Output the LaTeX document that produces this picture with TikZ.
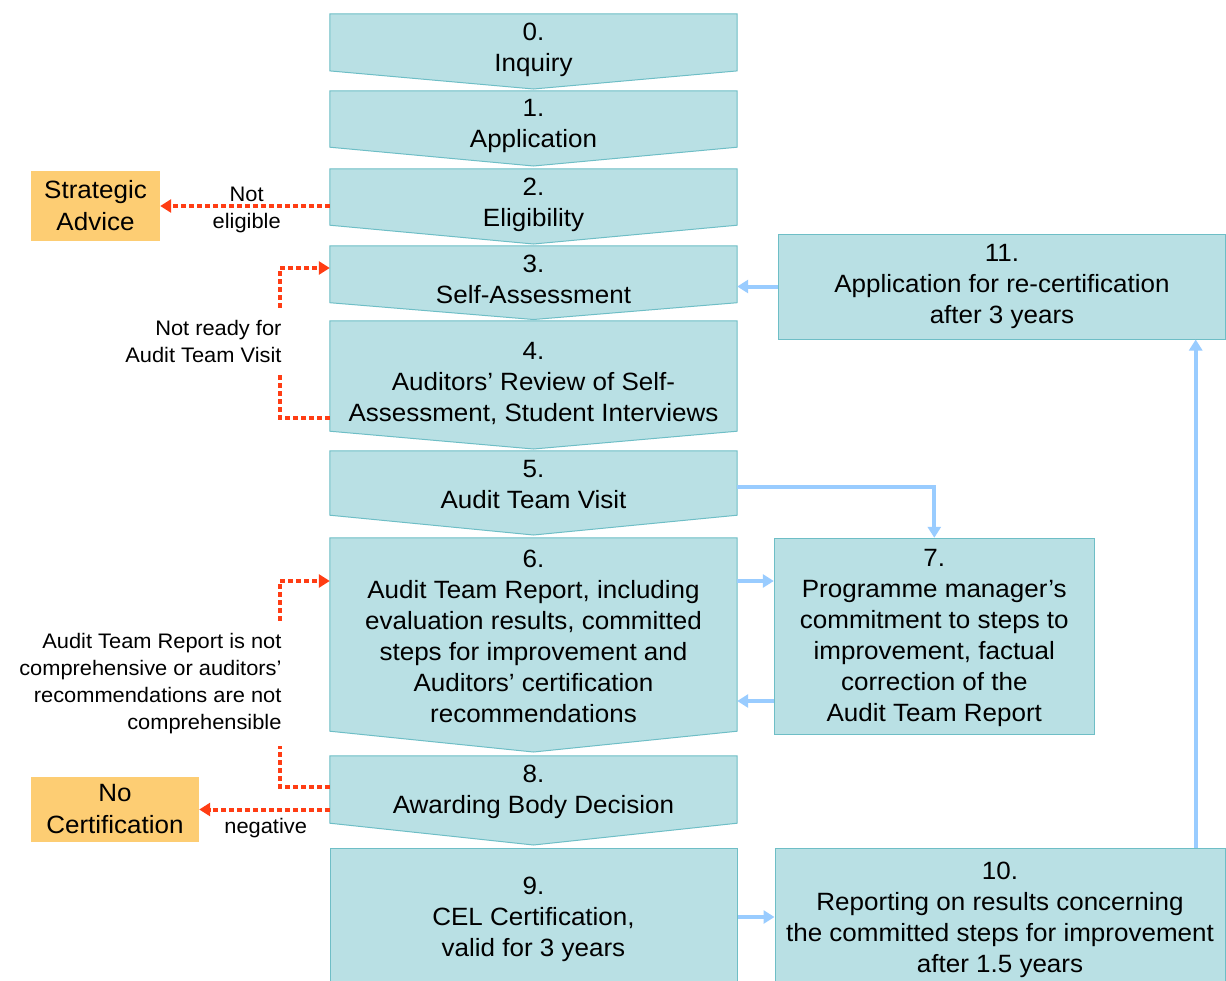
\documentclass[tikz,border=0pt]{standalone}
\usepackage{fontspec}
\setmainfont{Liberation Sans}[FakeStretch=1.04]
\usetikzlibrary{arrows.meta,fit}
\definecolor{boxfill}{RGB}{185,224,228}
\definecolor{boxline}{RGB}{110,190,198}
\definecolor{orangebox}{RGB}{253,205,115}
\definecolor{redline}{RGB}{255,61,20}
\definecolor{blueline}{RGB}{153,204,255}
\tikzset{
  rectarea/.style={inner sep=0pt, draw=none},
  stepshape/.style={fill=boxfill, draw=boxline, line width=1pt, line join=miter},
  flatbox/.style={stepshape, inner sep=0pt},
  boxtext/.style={font=\fontsize{25}{31}\selectfont, align=center, inner sep=0pt, anchor=north},
  labeltext/.style={font=\fontsize{21}{27}\selectfont, inner sep=0pt},
  orangenode/.style={fill=orangebox, inner sep=0pt, align=center, font=\fontsize{25}{32}\selectfont},
  redarrow/.style={draw=redline, line width=4pt, dash pattern=on 4.5pt off 3.5pt, -{Triangle[length=11pt,width=13pt]}},
  bluearrow/.style={draw=blueline, line width=4pt, -{Triangle[length=11pt,width=13pt]}},
}
\newcommand{\chevbox}[4]{%
  \node[rectarea, fit={(330,#2) (737,#3)}] (#1) {};
  \draw[stepshape] (#1.north west) -- (#1.north east) -- (#1.south east) -- (533.5,#4) -- (#1.south west) -- cycle;
}
\begin{document}
\begin{tikzpicture}[x=1pt,y=-1pt]
\useasboundingbox (0,0) rectangle (1226,980);
\clip (0,0) rectangle (1226,980);
\fill[white] (0,0) rectangle (1226,980);

% chevron steps
\chevbox{b0}{14}{70.7}{89}
\chevbox{b1}{91}{147}{166}
\chevbox{b2}{169}{225}{244}
\chevbox{b3}{246}{302.5}{319.5}
\chevbox{b4}{321}{431}{449}
\chevbox{b5}{451}{515}{535}
\chevbox{b6}{538}{731}{752}
\chevbox{b8}{756}{823}{845}

% rectangular steps
\node[flatbox, fit={(330,848) (737,992)}] (b9) {};
\node[flatbox, fit={(774.3,538.3) (1094.3,734)}] (b7) {};
\node[flatbox, fit={(775,848) (1225,992)}] (b10) {};
\node[flatbox, fit={(778,234) (1225,339)}] (b11) {};

% step texts
\node[boxtext] (t0) at (533.5,22.8) {0.\\Inquiry};
\node[boxtext] (t1) at (533.5,99.1) {1.\\Application};
\node[boxtext] (t2) at (533.5,177.6) {2.\\Eligibility};
\node[boxtext] (t3) at (533.5,254.6) {3.\\Self-Assessment};
\node[boxtext] (t4) at (533.5,342) {4.\\Auditors’ Review of Self-\\Assessment, Student Interviews};
\node[boxtext] (t5) at (533.5,459.6) {5.\\Audit Team Visit};
\node[boxtext] (t6) at (533.5,550.1) {6.\\Audit Team Report, including\\evaluation results, committed\\steps for improvement and\\Auditors’ certification\\recommendations};
\node[boxtext] (t7) at (934.3,548.8) {7.\\Programme manager’s\\commitment to steps to\\improvement, factual\\correction of the\\Audit Team Report};
\node[boxtext] (t8) at (533.5,764.6) {8.\\Awarding Body Decision};
\node[boxtext] (t9) at (533.5,877.1) {9.\\CEL Certification,\\valid for 3 years};
\node[boxtext] (t10) at (1000,862.1) {10.\\Reporting on results concerning\\the committed steps for improvement\\after 1.5 years};
\node[boxtext] (t11) at (1002,244.1) {11.\\Application for re-certification\\after 3 years};

% orange outcome boxes
\node[orangenode, minimum width=129pt, minimum height=70pt] (sa) at (95.5,206) {Strategic\\Advice};
\node[orangenode, minimum width=168pt, minimum height=64.5pt] (nc) at (115,809.5) {No\\Certification};

% blue connectors
\draw[bluearrow] (b11.west) -- (b3.east |- b11.west);
\draw[bluearrow] ([yshift=-4pt]b5.east) -| (b7.north);
\draw[bluearrow] (b6.east |- 0,581) -- (b7.west |- 0,581);
\draw[bluearrow] (b7.west |- 0,701) -- (b6.east |- 0,701);
\draw[bluearrow] (b9.east |- 0,917) -- (b10.west |- 0,917);
\draw[bluearrow] (b10.north -| 1195.7,0) -- (b11.south -| 1195.7,0);

% red connectors
\draw[redarrow] (b2.west |- sa.east) -- (sa.east);
\draw[redarrow] (b4.west |- 0,418) -- (280,418) |- (b3.west |- 0,268);
\draw[redarrow] (b8.west |- 0,787) -- (280,787) |- (b6.west |- 0,581);
\draw[redarrow] (b8.west |- nc.east) -- (nc.east);

% labels
\node[labeltext, align=center, anchor=north] (lne) at (246.7,187) {Not\\eligible};
\node[labeltext, align=right, anchor=north east, fill=white, inner xsep=2pt, inner ysep=12pt] (lnr) at (283.7,307.7) {Not ready for\\Audit Team Visit};
\node[labeltext, align=right, anchor=north east, fill=white, inner xsep=2pt, inner ysep=12pt] (lat) at (283.7,621) {Audit Team Report is not\\comprehensive or auditors’\\recommendations are not\\comprehensible};
\node[labeltext, anchor=base] (lneg) at (265.7,833) {negative};
\end{tikzpicture}
\end{document}
